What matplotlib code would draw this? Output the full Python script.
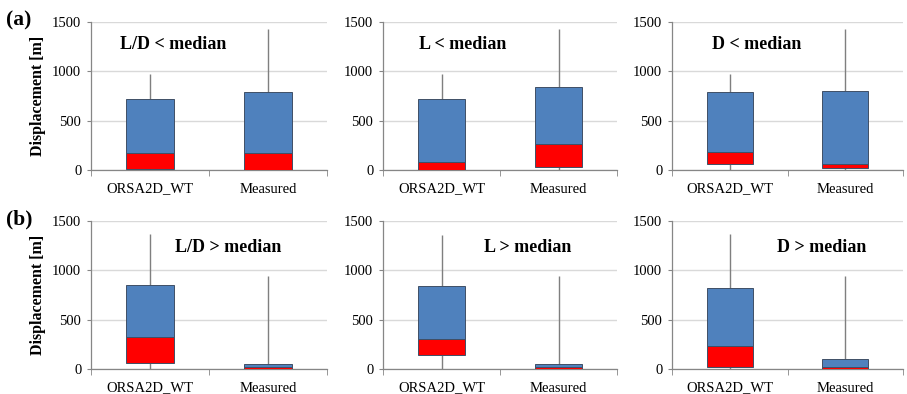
import matplotlib
matplotlib.use("Agg")
import matplotlib.pyplot as plt
import numpy as np

plt.rcParams['font.family'] = ['Liberation Serif', 'DejaVu Serif']

categories = ["ORSA2D_WT", "Measured"]
panel_titles = ["L/D < median", "L < median", "D < median",
                "L/D > median", "L > median", "D > median"]
row_labels = ["(a)", "(b)"]

# per panel: [ORSA2D_WT, Measured]
whisker_min = [[0, 0], [0, 0], [0, 0],
               [0, 0], [0, 0], [0, 0]]
q1 = [[7, 5], [3, 27], [61, 24],
      [64, 3], [138, 3], [17, 3]]
median = [[169, 176], [81, 260], [179, 57],
          [324, 24], [303, 24], [233, 20]]
q3 = [[720, 787], [723, 838], [791, 801],
      [856, 51], [843, 51], [819, 101]]
whisker_max = [[973, 1429], [970, 1429], [970, 1429],
               [1369, 940], [1358, 940], [1369, 940]]

title_pos = [(0.2, 1277), (0.18, 1277), (0.23, 1277),
             (0.66, 1236), (0.74, 1236), (0.80, 1236)]

W, H = 907, 394
fig = plt.figure(figsize=(W / 100, H / 100), dpi=100)

cols_px = [(91, 327), (383, 617), (672, 903)]
rows_px = [(22, 170), (221, 369)]

blue = "#4F81BD"
red = "#FF0000"
grid_c = "#D9D9D9"
spine_c = "#868686"

for r in range(2):
    for c in range(3):
        i = r * 3 + c
        x0, x1 = cols_px[c]
        yt, yb = rows_px[r]
        ax = fig.add_axes([x0 / W, 1 - yb / H, (x1 - x0) / W, (yb - yt) / H])
        x = np.arange(len(categories))
        ax.vlines(x, whisker_min[i], whisker_max[i], color="#7F7F7F", lw=1.0, zorder=2)
        lo = np.array(q1[i]); md = np.array(median[i]); hi = np.array(q3[i])
        ax.bar(x, md - lo, bottom=lo, width=0.4, color=red, edgecolor="#3F4F66", lw=0.7, zorder=3)
        ax.bar(x, hi - md, bottom=md, width=0.4, color=blue, edgecolor="#3F4F66", lw=0.7, zorder=3)
        ax.set_xlim(-0.5, 1.5)
        ax.set_ylim(0, 1500)
        ax.set_yticks([0, 500, 1000, 1500])
        ax.yaxis.grid(True, color=grid_c, lw=1.0, zorder=0)
        ax.set_axisbelow(True)
        ax.set_xticks(x)
        ax.set_xticklabels(categories, fontsize=10.5)
        ax.set_xticks([-0.5, 0.5, 1.5], minor=True)
        ax.tick_params(axis='x', which='major', length=0, pad=9)
        ax.tick_params(axis='x', which='minor', length=4, color=spine_c)
        ax.tick_params(axis='y', length=3, color=spine_c, labelsize=10.5, pad=4)
        for s in ["top", "right"]:
            ax.spines[s].set_visible(False)
        for s in ["left", "bottom"]:
            ax.spines[s].set_color(spine_c)
            ax.spines[s].set_linewidth(0.9)
        tx, ty = title_pos[i]
        ax.text(tx, ty, panel_titles[i], ha="center", va="center",
                fontsize=13, fontweight="bold")
        if c == 0:
            ax.set_ylabel("Displacement [m]", fontsize=11.5, fontweight="bold", labelpad=4)

fig.text(6 / W, 1 - 20 / H, row_labels[0], fontsize=15.5, fontweight="bold", va="center", ha="left")
fig.text(6 / W, 1 - 219 / H, row_labels[1], fontsize=15.5, fontweight="bold", va="center", ha="left")

fig.savefig("out.png", dpi=100)
